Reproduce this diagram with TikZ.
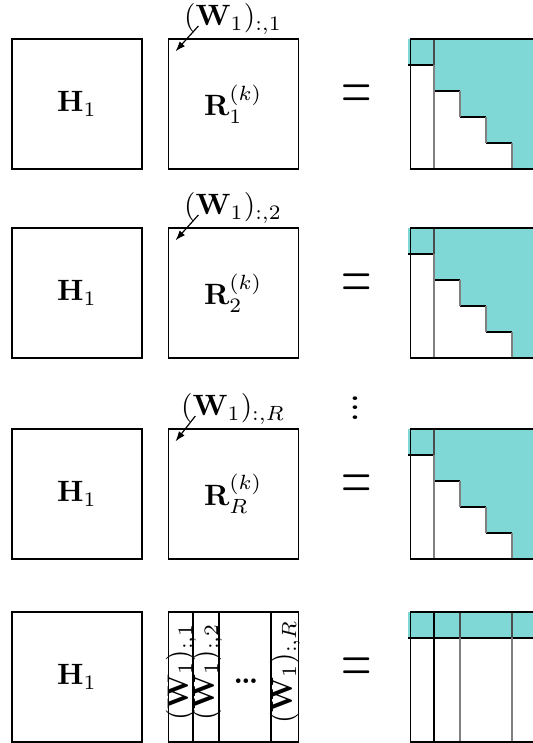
\documentclass[tikz,border=0pt]{standalone}
\usetikzlibrary{positioning,arrows.meta}
\definecolor{cyanfill}{HTML}{7FD8D6}

\begin{document}
\begin{tikzpicture}[x=0.34pt, y=-0.34pt,
      mat/.style={draw, minimum size=44.2pt, inner sep=0pt},
      lab/.style={inner sep=0pt},
      arr/.style={-{Latex[length=3.4pt, width=2.4pt]}},
      stair/.pic={
        \fill[cyanfill] (0,0) rectangle (26,26);
        \fill[cyanfill] (26,0) -- (130,0) -- (130,130) -- (104,130) |- (78,104) |- (52,78) |- (26,52) -- cycle;
        \draw (0,26) -- (26,26) (26,52) -- (52,52) (52,78) -- (78,78) (78,104) -- (104,104);
        \draw[gray] (26,26) -- (26,130) (52,52) -- (52,78) (78,78) -- (78,104) (104,104) -- (104,130);
        \draw[black!70] (26,0) -- (26,26);
      },
      cols/.pic={
        \fill[cyanfill] (0,0) rectangle (130,26);
        \draw (0,26) -- (130,26);
        \draw[line width=1pt] (26,0) -- (26,130);
        \draw[gray] (52,26) -- (52,130) (104,26) -- (104,130);
        \draw[black!70] (52,0) -- (52,26) (104,0) -- (104,26);
      }]
    \useasboundingbox (0,0) rectangle (532,743);
    % first slice
    \node[mat] (h1) at (77,104) {$\mathbf{H}_1$};
    \node[mat, right=8.5pt of h1] (r1) {$\mathbf{R}_1^{(k)}$};
    \node[lab, above=1.2pt of r1] (w1) {$(\mathbf{W}_1)_{:,1}$};
    \draw[arr] ([xshift=5pt, yshift=3pt]w1.south west) -- ([xshift=2.7pt, yshift=-4.4pt]r1.north west);
    \node (e1) at (357,97) {\scalebox{1.33}[2.28]{$=$}};
    \pic at (408,39) {stair};
    \node[mat, right=37.7pt of r1] (t1) {};
    % second slice
    \node[mat] (h2) at (77,293) {$\mathbf{H}_1$};
    \node[mat, right=8.5pt of h2] (r2) {$\mathbf{R}_2^{(k)}$};
    \node[lab, above=1.2pt of r2] (w2) {$(\mathbf{W}_1)_{:,2}$};
    \draw[arr] ([xshift=5pt, yshift=3pt]w2.south west) -- ([xshift=2.7pt, yshift=-4.4pt]r2.north west);
    \node (e2) at (357,286) {\scalebox{1.33}[2.28]{$=$}};
    \pic at (408,228) {stair};
    \node[mat, right=37.7pt of r2] (t2) {};
    \node (vd) at (355,401) {\scalebox{1}[0.8]{\bfseries\vdots}};
    % last slice
    \node[mat] (h3) at (77,494) {$\mathbf{H}_1$};
    \node[mat, right=8.5pt of h3] (r3) {$\mathbf{R}_R^{(k)}$};
    \node[lab, above=1.2pt of r3] (w3) {$(\mathbf{W}_1)_{:,R}$};
    \draw[arr] ([xshift=5pt, yshift=3pt]w3.south west) -- ([xshift=2.7pt, yshift=-4.4pt]r3.north west);
    \node (e3) at (357,487) {\scalebox{1.33}[2.28]{$=$}};
    \pic at (408,429) {stair};
    \node[mat, right=37.7pt of r3] (t3) {};
    % stacked columns
    \node[mat] (h4) at (77,677) {$\mathbf{H}_1$};
    \node[mat, right=8.5pt of h4] (r4) {};
    \draw (193,612) -- (193,742) (219,612) -- (219,742) (271,612) -- (271,742);
    \node[lab, rotate=90] (c1) at (181,672) {$(\mathbf{W}_1)_{:,1}$};
    \node[lab, rotate=90] (c2) at (207,672) {$(\mathbf{W}_1)_{:,2}$};
    \node (dots) at (246,681) {\bfseries\ldots};
    \node[lab, rotate=90] (cr) at (285,672) {$(\mathbf{W}_1)_{:,R}$};
    \node (e4) at (357,670) {\scalebox{1.33}[2.28]{$=$}};
    \pic at (408,612) {cols};
    \node[mat, right=37.7pt of r4] (t4) {};
  \end{tikzpicture}
\end{document}
